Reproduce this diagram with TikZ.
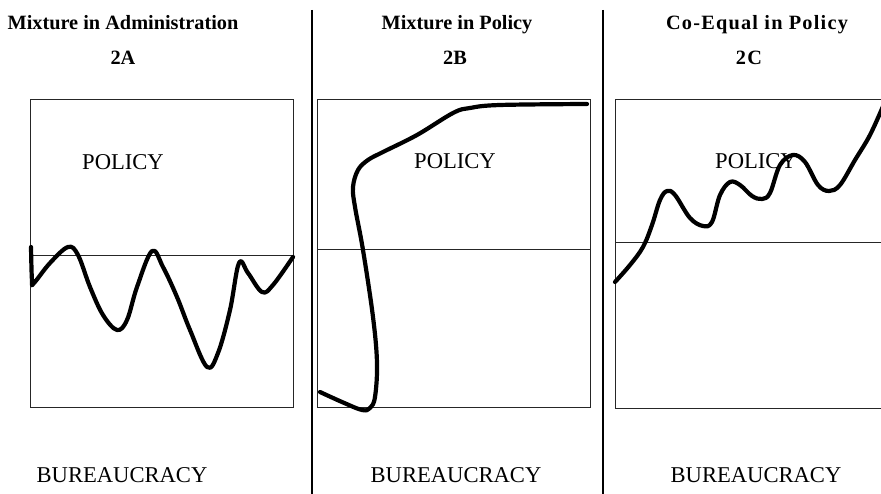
\documentclass[tikz,border=0pt]{standalone}
\usepackage{fontspec}
\setmainfont{Liberation Serif}
\begin{document}
\begin{tikzpicture}[x=1pt,y=-1pt,
  title/.style={font=\fontsize{20.3}{22}\selectfont\bfseries,anchor=base,inner sep=0pt},
  label/.style={font=\fontsize{22.6}{24}\selectfont,anchor=base,inner sep=0pt},
  frame/.style={line width=1pt,draw=black!85},
  divider/.style={line width=1.4pt},
  curve/.style={line width=4.2pt,line cap=round,line join=round}]
\useasboundingbox (0,0) rectangle (881,494);
\fill[white] (0,0) rectangle (881,494);
% dividers
\draw[divider] (312,10) -- (312,494);
\draw[divider] (603,10) -- (603,494);
% titles
\node[title] (tA) at (123,30) {Mixture in Administration};
\node[title] (nA) at (123,65) {2A};
\node[title] (tB) at (457,30) {Mixture in Policy};
\node[title] (nB) at (455,65) {2B};
\node[title] (tC) at (757,30) {\addfontfeature{LetterSpace=6}Co-Equal in Policy};
\node[title] (nC) at (749,65) {\addfontfeature{LetterSpace=6}2C};
% boxes
\draw[frame] (30,100) rectangle (293,407);
\draw[frame] (30,256) -- (293,256);
\draw[frame] (317,100) rectangle (590,407);
\draw[frame] (317,250) -- (590,250);
\draw[frame] (890,100) -- (615,100) -- (615,408) -- (890,408);
\draw[frame] (615,243) -- (890,243);
% labels
\node[label] (pA) at (123,170) {POLICY};
\node[label] (pB) at (455,169) {POLICY};
\node[label] (bA) at (122,482) {BUREAUCRACY};
\node[label] (bB) at (456,482) {BUREAUCRACY};
\node[label] (bC) at (756,482) {BUREAUCRACY};
% curves
\draw[curve] plot[smooth,tension=0.6] coordinates {(31,247) (32,281) (34,283) (50,263) (68,247) (78,255) (90,287) (103,315) (117,330) (127,320) (137,287) (152,251) (163,267) (177,297) (190,330) (207,367) (218,353) (230,310) (239,263) (248,273) (262,292) (273,285) (293,257)};
\draw[curve] plot[smooth,tension=0.6] coordinates {(320,392) (342,402) (362,410) (370,408) (375,397) (377,363) (373,317) (363,250) (355,207) (353,187) (358,170) (368,160) (383,152) (417,135) (453,113) (470,108) (500,105) (587,104)};
\draw[curve] plot[smooth,tension=0.6] coordinates {(615,282) (630,265) (643,247) (652,225) (660,200) (667,191) (675,195) (690,218) (703,226) (712,222) (720,195) (730,182) (740,185) (752,196) (762,199) (770,193) (780,165) (793,155) (805,162) (818,185) (829,191) (840,185) (855,160) (870,135) (884,104)};
\node[label] (pC) at (756,169) {POLICY};
\end{tikzpicture}
\end{document}
